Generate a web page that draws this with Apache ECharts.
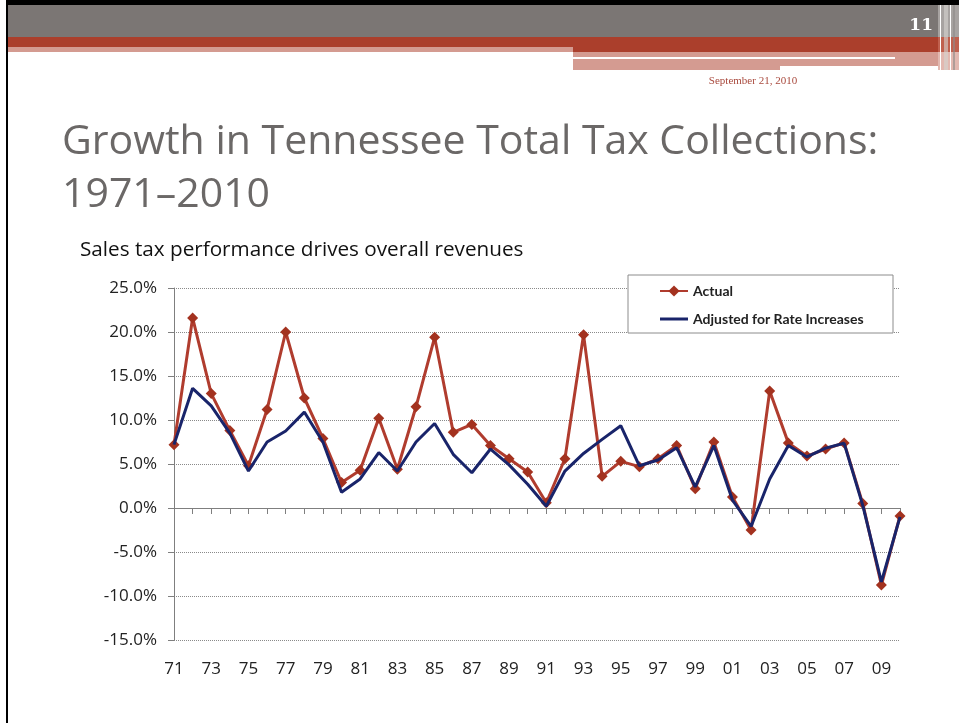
<!DOCTYPE html>
<html>
<head>
<meta charset="utf-8">
<script src="https://cdn.jsdelivr.net/npm/echarts@6/dist/echarts.min.js"></script>
<style>
html,body{margin:0;padding:0;background:#fff;}
#chart{width:959px;height:723px;}
</style>
</head>
<body>
<div id="chart"></div>
<script>
var years = ['71','72','73','74','75','76','77','78','79','80','81','82','83','84','85','86','87','88','89','90',
             '91','92','93','94','95','96','97','98','99','00','01','02','03','04','05','06','07','08','09','10'];
var actual = [7.2,21.6,13.0,8.8,4.8,11.2,20.0,12.5,7.9,2.9,4.3,10.2,4.4,11.5,19.4,8.6,9.5,7.1,5.6,4.1,
              0.6,5.6,19.7,3.6,5.3,4.7,5.6,7.1,2.2,7.5,1.25,-2.5,13.3,7.4,5.9,6.7,7.4,0.5,-8.75,-0.9];
var adjusted = [7.2,13.6,11.6,8.5,4.2,7.5,8.75,10.9,7.5,1.8,3.3,6.3,4.2,7.5,9.6,6.1,4.0,6.7,4.9,2.7,
                0.2,4.2,6.2,7.8,9.35,4.8,5.45,6.85,2.4,7.1,0.9,-2.1,3.3,7.1,5.8,6.8,7.35,0.3,-8.4,-1.0];
var yTicks = [-15,-10,-5,0,5,10,15,20,25];
var seriesNames = ['Actual','Adjusted for Rate Increases'];
var titleLine1 = 'Growth in Tennessee Total Tax Collections:';
var titleLine2 = '1971\u20132010';
var subtitle = 'Sales tax performance drives overall revenues';
var slideNumber = '11';
var slideDate = 'September 21, 2010';

var chart = echarts.init(document.getElementById('chart'));
var option = {
  backgroundColor: '#ffffff',
  animation: false,
  graphic: [
    {type:'rect', shape:{x:6,y:0,width:953,height:5}, style:{fill:'#000'}, z:1},
    {type:'rect', shape:{x:6,y:0,width:2,height:723}, style:{fill:'#000'}, z:1},
    {type:'rect', shape:{x:8,y:5,width:930,height:32}, style:{fill:'#7b7674'}, z:1},
    {type:'rect', shape:{x:8,y:37,width:930,height:10}, style:{fill:'#ab3f2c'}, z:1},
    {type:'rect', shape:{x:573,y:47,width:365,height:5}, style:{fill:'#ab3f2c'}, z:1},
    {type:'rect', shape:{x:8,y:47,width:565,height:5}, style:{fill:'#d49b91'}, z:1},
    {type:'rect', shape:{x:573,y:52,width:365,height:18}, style:{fill:'#d49b91'}, z:1},
    {type:'rect', shape:{x:573,y:57,width:322,height:2}, style:{fill:'#ffffff'}, z:1},
    {type:'rect', shape:{x:780,y:66,width:160,height:5}, style:{fill:'#ffffff'}, z:1},
    {type:'rect', shape:{x:938,y:5,width:21,height:32}, style:{fill:'#a7a3a1'}, z:1},
    {type:'rect', shape:{x:938,y:37,width:21,height:15}, style:{fill:'#c0604e'}, z:1},
    {type:'rect', shape:{x:938,y:52,width:21,height:18}, style:{fill:'#e2b8b0'}, z:1},
    {type:'rect', shape:{x:940,y:5,width:1,height:65}, style:{fill:'#ffffff'}, z:1},
    {type:'rect', shape:{x:944,y:5,width:4,height:65}, style:{fill:'#d6d3d1', opacity:0.6}, z:1},
    {type:'rect', shape:{x:950,y:5,width:1,height:65}, style:{fill:'#ffffff'}, z:1},
    {type:'rect', shape:{x:953,y:5,width:2,height:65}, style:{fill:'#8e8a88', opacity:0.6}, z:1},
    {type:'text', x:933, y:26, style:{text:slideNumber, fill:'#ffffff', font:'bold 17px "DejaVu Serif"', textAlign:'right', textVerticalAlign:'middle'}, z:2},
    {type:'text', x:753, y:81, style:{text:slideDate, fill:'#a94a3e', font:'11px "Liberation Serif"', textAlign:'center', textVerticalAlign:'middle'}, z:2},
    {type:'text', x:62, y:142, style:{text:titleLine1, fill:'#6b6867', font:'41px "Open Sans"', textAlign:'left', textVerticalAlign:'middle'}, z:2},
    {type:'text', x:62, y:195, style:{text:titleLine2, fill:'#6b6867', font:'41px "Open Sans"', textAlign:'left', textVerticalAlign:'middle'}, z:2},
    {type:'text', x:80, y:250, style:{text:subtitle, fill:'#111111', font:'20.7px "Open Sans"', textAlign:'left', textVerticalAlign:'middle'}, z:2},
    {type:'rect', shape:{x:628,y:275,width:265,height:58}, style:{fill:'#ffffff', stroke:'#8c8c8c', lineWidth:1}, z:3}
  ],
  grid: {left:174, right:59, top:288, bottom:83, containLabel:false},
  legend: {
    data: [
      {name: seriesNames[0]},
      {name: seriesNames[1], icon: 'path://M0,0H28V3H0Z'}
    ],
    orient: 'vertical',
    left: 628, top: 275,
    padding: [9, 10, 7, 31],
    itemWidth: 28, itemHeight: 14, itemGap: 14,
    z: 4,
    textStyle: {fontFamily:'Lato', fontWeight:'bold', fontSize:14, color:'#222'}
  },
  xAxis: [
    {
      type:'category', data: years, boundaryGap:false, gridIndex:0,
      axisLine:{onZero:true, lineStyle:{color:'#7f7f7f', width:1}},
      axisTick:{show:true, interval:0, length:6, lineStyle:{color:'#7f7f7f'}},
      axisLabel:{show:false},
      splitLine:{show:false}
    },
    {
      type:'category', data: years, boundaryGap:false, gridIndex:0, position:'bottom',
      axisLine:{show:false, onZero:false},
      axisTick:{show:false},
      axisLabel:{show:true, interval:1, margin:21, fontFamily:'Open Sans', fontSize:17, color:'#222'},
      splitLine:{show:false}
    }
  ],
  yAxis: {
    type:'value', min:-15, max:25, interval:5,
    axisLine:{show:true, lineStyle:{color:'#7f7f7f', width:1}},
    axisTick:{show:true, length:6, lineStyle:{color:'#7f7f7f'}},
    axisLabel:{margin:17, fontFamily:'Open Sans', fontSize:17, color:'#222',
      formatter:function(v){return v.toFixed(1)+'%';}},
    splitLine:{show:true, lineStyle:{color:'#8a8a8a', type:'dotted', width:1}}
  },
  series: [
    {
      name: seriesNames[0], type:'line', data: actual, xAxisIndex:0,
      symbol:'diamond', symbolSize:11, showAllSymbol:true,
      lineStyle:{color:'#b03c2e', width:3},
      itemStyle:{color:'#a3321f'},
      z:2
    },
    {
      name: seriesNames[1], type:'line', data: adjusted, xAxisIndex:0,
      symbol:'none',
      lineStyle:{color:'#19246a', width:3},
      itemStyle:{color:'#19246a'},
      z:3
    }
  ]
};
chart.setOption(option);
</script>
</body>
</html>
